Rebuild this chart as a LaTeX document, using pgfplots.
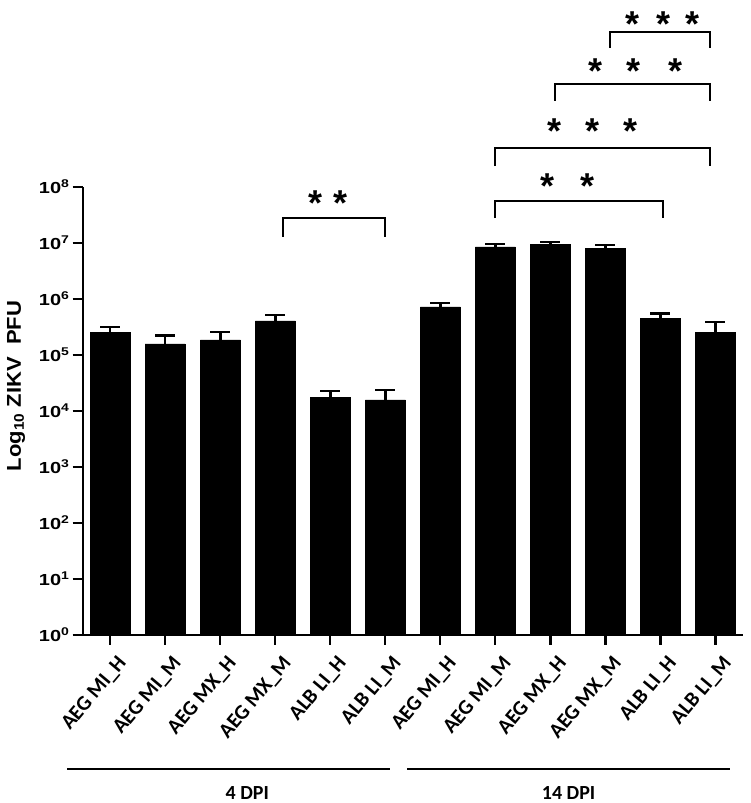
\documentclass[border=0pt]{standalone}
\usepackage{pgfplots}
\pgfplotsset{compat=1.18}
\usepackage{pgfplotstable}
\usepackage{fontspec}
\setmainfont{Liberation Sans}
\newfontfamily\tickfont[FakeStretch=1.25]{Liberation Sans}
\newfontfamily\ylabfont[FakeStretch=1.1]{Liberation Sans}
\newfontfamily\labfont{Carlito}

\pgfplotstableread{
x y e
0 251000 65000
1 158000 66000
2 186000 71000
3 407000 106000
4 17400 5500
5 15800 7900
6 724000 127000
7 8510000 1040000
8 9550000 920000
9 8040000 1080000
10 452000 98000
11 251000 138000
}\zikv

\begin{document}
\begin{tikzpicture}
\begin{axis}[
  at={(0,0)}, anchor=south west,
  width=660.3pt, height=448pt, scale only axis,
  ymode=log, ymin=1, ymax=1e8,
  xmin=-0.5, xmax=11.5,
  ybar, bar width=40pt,
  axis x line*=bottom, axis y line*=left,
  axis line style={line width=2.2pt, -},
  tick align=outside,
  major tick length=10pt,
  tick style={line width=2.2pt, black},
  xtick={0,1,2,3,4,5,6,7,8,9,10,11},
  xticklabels={AEG MI\_H, AEG MI\_M, AEG MX\_H, AEG MX\_M, ALB LI\_H, ALB LI\_M,
               AEG MI\_H, AEG MI\_M, AEG MX\_H, AEG MX\_M, ALB LI\_H, ALB LI\_M},
  xticklabel style={font=\labfont\bfseries\fontsize{21}{21}\selectfont, rotate=50, anchor=east, inner sep=0pt, xshift=-3pt, yshift=-19pt},
  ytick={1,10,100,1000,10000,100000,1000000,10000000,100000000},
  yticklabels={10\textsuperscript{0},10\textsuperscript{1},10\textsuperscript{2},10\textsuperscript{3},10\textsuperscript{4},10\textsuperscript{5},10\textsuperscript{6},10\textsuperscript{7},10\textsuperscript{8}},
  yticklabel style={font=\tickfont\bfseries\fontsize{16}{16}\selectfont, inner sep=1pt, xshift=-2pt},
  yminorticks=false,
  ylabel={Log\textsubscript{10} ZIKV\ \ PFU},
  ylabel style={font=\ylabfont\bfseries\fontsize{20}{20}\selectfont, at={(axis description cs:-0.101,0.556)}, anchor=center},
  clip=false,
]
\addplot[fill=black, draw=black,
  error bars/.cd, y dir=plus, y explicit,
  error bar style={line width=2.5pt, black, solid},
  error mark options={rotate=90, mark size=10pt, line width=2.5pt, black}]
  table[x=x, y=y, y error=e] {\zikv};

% significance brackets
\draw[line width=2pt] (axis cs:3.145,1.30e7) -- (axis cs:3.145,2.76e7) -- (axis cs:5.0,2.76e7) -- (axis cs:5.0,1.30e7);
\draw[line width=2pt] (axis cs:6.987,2.79e7) -- (axis cs:6.987,5.62e7) -- (axis cs:10.049,5.62e7) -- (axis cs:10.049,2.79e7);
\draw[line width=2pt] (axis cs:6.987,2.371e8) -- (axis cs:6.987,4.91e8) -- (axis cs:10.909,4.91e8) -- (axis cs:10.909,2.371e8);
\draw[line width=2pt] (axis cs:8.078,3.436e9) -- (axis cs:8.078,6.823e9) -- (axis cs:10.909,6.823e9) -- (axis cs:10.909,3.436e9);
\draw[line width=2pt] (axis cs:9.078,3.076e10) -- (axis cs:9.078,5.929e10) -- (axis cs:10.909,5.929e10) -- (axis cs:10.909,3.076e10);

\tikzset{star/.style={anchor=north, inner sep=0pt, font=\bfseries\fontsize{36}{36}\selectfont}}
\node[star] at (axis cs:3.727,8.59e7) {*};
\node[star] at (axis cs:4.182,8.59e7) {*};
\node[star] at (axis cs:7.94,1.757e8) {*};
\node[star] at (axis cs:8.676,1.757e8) {*};
\node[star] at (axis cs:8.073,1.637e9) {*};
\node[star] at (axis cs:8.758,1.637e9) {*};
\node[star] at (axis cs:9.455,1.637e9) {*};
\node[star] at (axis cs:8.818,1.986e10) {*};
\node[star] at (axis cs:9.504,1.986e10) {*};
\node[star] at (axis cs:10.273,1.986e10) {*};
\node[star] at (axis cs:9.485,1.35e11) {*};
\node[star] at (axis cs:10.047,1.35e11) {*};
\node[star] at (axis cs:10.587,1.35e11) {*};

% group lines
\draw[line width=2.5pt] (axis cs:-0.782,4.05e-3) -- (axis cs:5.09,4.05e-3);
\draw[line width=2.5pt] (axis cs:5.4,4.05e-3) -- (axis cs:11.27,4.05e-3);
\node[font=\labfont\bfseries\fontsize{20}{20}\selectfont, anchor=center, inner sep=0pt] at (axis cs:2.49,1.51e-3) {4 DPI};
\node[font=\labfont\bfseries\fontsize{20}{20}\selectfont, anchor=center, inner sep=0pt] at (axis cs:8.33,1.51e-3) {14 DPI};
\end{axis}
\pgfresetboundingbox
\path[use as bounding box] (-82.7pt,-168pt) rectangle (667.3pt,635pt);
\end{tikzpicture}
\end{document}
